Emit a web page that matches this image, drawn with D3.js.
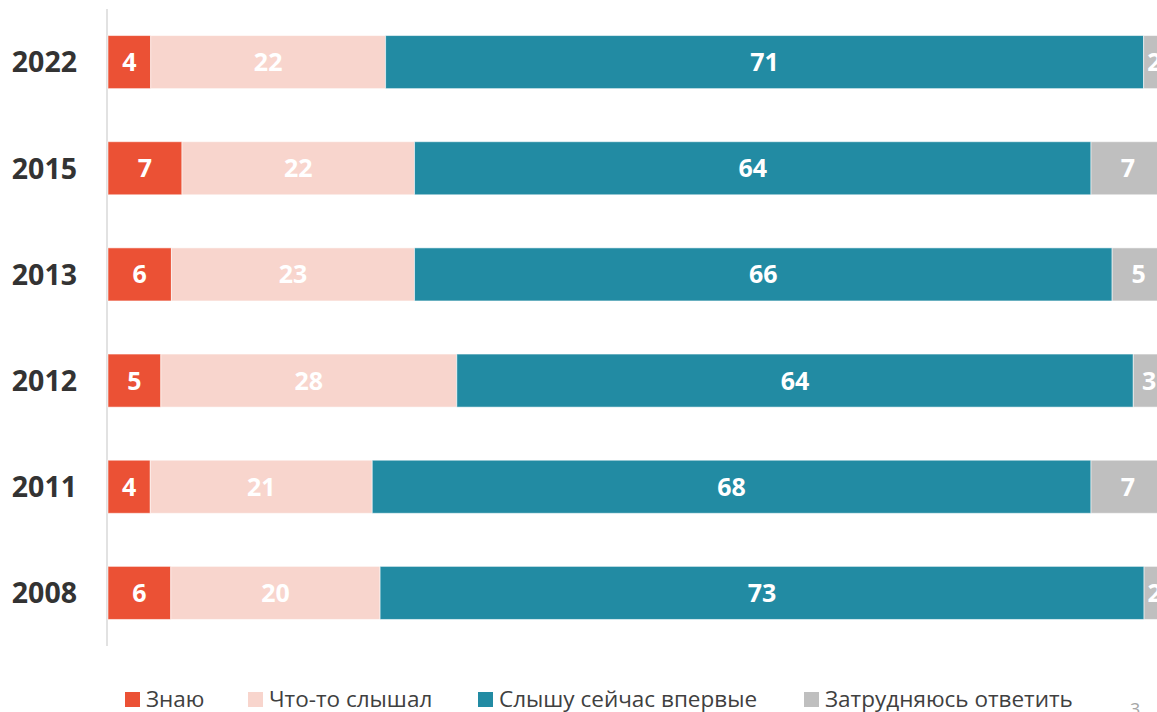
<!DOCTYPE html>
<html>
<head>
<meta charset="utf-8">
<script src="https://cdn.jsdelivr.net/npm/d3@7"></script>
<style>
  html, body { margin: 0; padding: 0; background: #fff; overflow: hidden; }
  svg { display: block; font-family: "Open Sans", "DejaVu Sans", sans-serif; }
</style>
</head>
<body>
<svg id="chart" width="1157" height="712"></svg>
<script>
// Survey years, top to bottom
const years = ["2022", "2015", "2013", "2012", "2011", "2008"];

// Answer options (series)
const seriesKeys = ["know", "heard", "first", "hard"];
const seriesNames = ["Знаю", "Что-то слышал", "Слышу сейчас впервые", "Затрудняюсь ответить"];
const seriesColors = ["#EB5135", "#F8D5CD", "#228BA3", "#BFBFBF"];

// Shares of respondents, %
const know  = [4, 7, 6, 5, 4, 6];
const heard = [22, 22, 23, 28, 21, 20];
const first = [71, 64, 66, 64, 68, 73];
const hard  = [2, 7, 5, 3, 7, 2];

const rows = years.map((y, i) => ({
  year: y, know: know[i], heard: heard[i], first: first[i], hard: hard[i]
}));

const svg = d3.select("#chart");

const plotLeft = 108, plotRight = 1165;
const x = d3.scaleLinear().domain([0, 1]).range([plotLeft, plotRight]);
const y = d3.scaleBand().domain(years).range([9, 646]).paddingInner(0.5).paddingOuter(0.25);
const color = d3.scaleOrdinal().domain(seriesKeys).range(seriesColors);

// 100% stacked layout
const stacked = d3.stack().keys(seriesKeys).offset(d3.stackOffsetExpand)(rows);

// Category axis line
svg.append("line")
  .attr("x1", plotLeft - 1).attr("x2", plotLeft - 1)
  .attr("y1", y.range()[0]).attr("y2", y.range()[1])
  .attr("stroke", "#D9D9D9").attr("stroke-width", 1.5);

const layers = svg.append("g").selectAll("g")
  .data(stacked).join("g")
  .attr("fill", d => color(d.key));

layers.selectAll("rect")
  .data(d => d.map(p => ({ p, key: d.key })))
  .join("rect")
  .attr("x", d => x(d.p[0]))
  .attr("y", d => y(d.p.data.year))
  .attr("width", d => x(d.p[1]) - x(d.p[0]))
  .attr("height", y.bandwidth())
  .attr("stroke", "#ffffff")
  .attr("stroke-opacity", 0.55)
  .attr("stroke-width", 1);

// Value labels in the middle of each segment
const labels = svg.append("g");
stacked.forEach(layer => {
  layer.forEach(p => {
    labels.append("text")
      .attr("x", (x(p[0]) + x(p[1])) / 2)
      .attr("y", y(p.data.year) + y.bandwidth() / 2)
      .attr("dy", "0.36em")
      .attr("text-anchor", "middle")
      .attr("fill", "#ffffff")
      .attr("font-weight", 700)
      .attr("font-size", 25)
      .text(p.data[layer.key]);
  });
});

// Year labels
const yAxis = d3.axisLeft(y).tickSize(0).tickPadding(0);
const yAxisG = svg.append("g")
  .attr("transform", "translate(77,0)")
  .call(yAxis);
yAxisG.select(".domain").remove();
yAxisG.selectAll("text")
  .attr("font-family", "'Open Sans', sans-serif")
  .attr("font-size", 28.5)
  .attr("font-weight", 700)
  .attr("fill", "#333333")
  .attr("dy", "0.36em");

// Legend
const legendX = [125, 248, 478, 804];
const legend = svg.append("g");
seriesKeys.forEach((k, i) => {
  const g = legend.append("g").attr("transform", `translate(${legendX[i]},692)`);
  g.append("rect").attr("width", 15).attr("height", 15).attr("fill", color(k));
  g.append("text")
    .attr("x", 21).attr("y", 14.5)
    .attr("font-size", 22.5)
    .attr("fill", "#404040")
    .text(seriesNames[i]);
});

// Slide number
svg.append("text")
  .attr("x", 1130).attr("y", 716)
  .attr("font-size", 18)
  .attr("fill", "#A6A6A6")
  .text("3");
</script>
</body>
</html>
